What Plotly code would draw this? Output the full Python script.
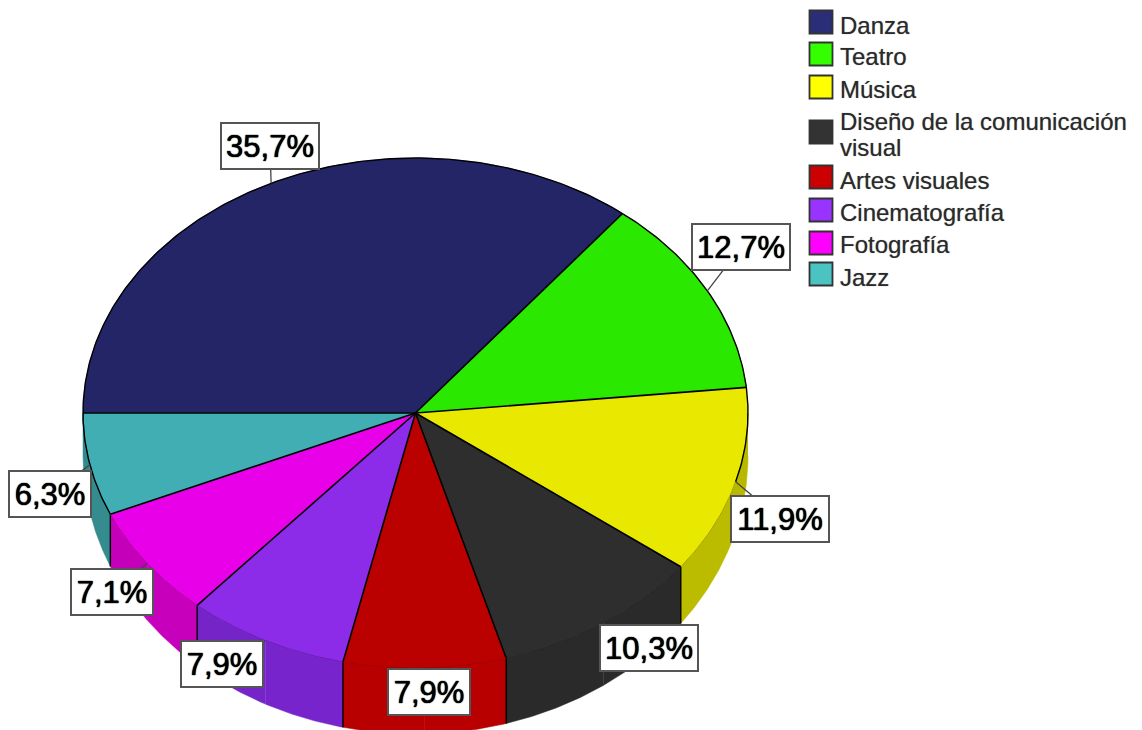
import numpy as np
import plotly.graph_objects as go

CATEGORIES = ["Danza", "Teatro", "Música", "Diseño de la comunicación<br>visual",
              "Artes visuales", "Cinematografía", "Fotografía", "Jazz"]
VALUES = [35.7, 12.7, 11.9, 10.3, 7.9, 7.9, 7.1, 6.3]

TOP_COLORS = ["#232566", "#2ae800", "#e8e800", "#2e2e2e", "#bb0000", "#8c2ce8", "#e800e8", "#40aeb2"]
WALL_COLORS = ["#1d1f55", "#22c000", "#b8b800", "#2a2a2a", "#b80000", "#7524c8", "#c400b8", "#338a8c"]
LEGEND_COLORS = ["#2a2e78", "#33ff00", "#ffff00", "#333333", "#cc0000", "#9933ff", "#ff00ff", "#4bc3c3"]

# layout, in page pixels
CX, CY, RX, RY = 415.5, 413, 332.5, 255
BOTTOM_CY, BOTTOM_RY = 456, 278
LABEL_CENTERS = [(270, 146), (741, 247), (780, 519), (649, 648), (429, 692), (222, 664), (112, 592), (50, 494)]
LEGEND_Y = [22, 54, 87, 132, 177, 210, 243, 274]
LEGEND_TEXT_Y = [25, 56, 89, 121, 180, 212, 244, 277]


def top_xy(deg):
    t = np.radians(deg)
    return CX + RX * np.cos(t), CY - RY * np.sin(t)


def bottom_xy(deg):
    t = np.radians(deg)
    return CX + RX * np.cos(t), BOTTOM_CY - BOTTOM_RY * np.sin(t)


def shade(color, factor):
    rgb = [min(255, int(int(color[i:i + 2], 16) * factor)) for i in (1, 3, 5)]
    return "rgb({},{},{})".format(*rgb)


def add_line(x, y, width, color):
    fig.add_trace(go.Scatter(x=x, y=y, mode="lines", line=dict(width=width, color=color),
                             hoverinfo="skip", showlegend=False))


# slices run clockwise from the left edge; the printed percentages add up to 99.8,
# so the last slice closes the ellipse
edges = 180 - np.cumsum([0] + VALUES) * 3.6
edges[-1] = -180
starts, ends = edges[:-1], edges[1:]
mids = (starts + ends) / 2

fig = go.Figure()

# side wall, only the front half shows; each section has two faint bands
for a, b, color in zip(starts, ends, WALL_COLORS):
    a, b = min(a, 0), max(b, -180)
    if a <= b:
        continue
    m = (a + b) / 2
    for p, q in ((a, m), (m, b)):
        inner = abs((p + q) / 2 + 90) < abs((a + b) / 2 + 90)
        band = shade(color, 1.02) if inner else color
        arc = np.linspace(p, q, 40)
        tx, ty = top_xy(arc)
        bx, by = bottom_xy(arc[::-1])
        fig.add_trace(go.Scatter(
            x=np.r_[tx, bx], y=np.r_[ty, by], mode="lines", fill="toself", fillcolor=band,
            line=dict(width=0.5, color=band), hoverinfo="skip", showlegend=False,
        ))

# vertical edges between wall sections
for deg in edges[1:-1]:
    if deg < 0:
        x0, y0 = top_xy(deg)
        x1, y1 = bottom_xy(deg)
        add_line([x0, x1], [y0, y1], 1.4, "#000000")

# top faces
for name, v, a, b, color in zip(CATEGORIES, VALUES, starts, ends, TOP_COLORS):
    ax, ay = top_xy(np.linspace(a, b, 120))
    label = name.replace("<br>", " ")
    fig.add_trace(go.Scatter(
        x=np.r_[CX, ax, CX], y=np.r_[CY, ay, CY], mode="lines", fill="toself", fillcolor=color,
        line=dict(width=0.5, color=color), name=label,
        hovertemplate=label + ": " + f"{v:.1f}%".replace(".", ",") + "<extra></extra>",
        hoveron="fills", showlegend=False,
    ))

# faint seam between top face and wall
for a, b, color in zip(starts, ends, WALL_COLORS):
    a, b = min(a, 0), max(b, -180)
    if a > b:
        sx, sy = top_xy(np.linspace(a, b, 40))
        add_line(sx, sy, 1, shade(color, 0.88))

# black outline: rim from the Jazz slice round the back to mid Música, and radial edges
rim_x, rim_y = top_xy(np.linspace(ends[-2] + 360, mids[2], 300))
add_line(rim_x, rim_y, 1.4, "#000000")
for deg in edges[:-1]:
    ex, ey = top_xy(deg)
    add_line([CX, ex], [CY, ey], 1.6, "#000000")

# leader lines, the label boxes cover their far end
for deg, (lx, ly) in zip(mids, LABEL_CENTERS):
    sx, sy = top_xy(deg)
    add_line([sx, lx], [sy, ly], 1.3, "#444444")

# value labels
for v, (lx, ly) in zip(VALUES, LABEL_CENTERS):
    fig.add_annotation(
        x=lx, y=ly, text=f"{v:.1f}%".replace(".", ","), showarrow=False,
        font=dict(family="Liberation Sans", size=31, color="#000000",
                  shadow="0 0 1px #000000, 0 0 1px #000000"),
        bgcolor="#ffffff", bordercolor="#555555", borderwidth=2, borderpad=0,
        width=80 if v < 10 else 96, height=44,
    )

# legend
fig.add_trace(go.Scatter(
    x=[821] * len(CATEGORIES), y=LEGEND_Y, mode="markers",
    marker=dict(symbol="square", size=23, color=LEGEND_COLORS, line=dict(width=1.8, color="#333333")),
    hoverinfo="skip", showlegend=False,
))
for name, y in zip(CATEGORIES, LEGEND_TEXT_Y):
    for i, line in enumerate(name.split("<br>")):
        fig.add_annotation(x=838, y=y + i * 26, text=line, showarrow=False, xanchor="left",
                           font=dict(family="Liberation Sans", size=24, color="#2a2a2a",
                                     shadow="0 0 1px #888888"))

fig.update_xaxes(range=[0, 1142], visible=False)
fig.update_yaxes(range=[730, 0], visible=False)
fig.update_layout(
    width=1142, height=730, autosize=False,
    margin=dict(l=0, r=0, t=0, b=0),
    plot_bgcolor="#ffffff", paper_bgcolor="#ffffff",
    showlegend=False,
)

fig.write_html("out.html", config={"displayModeBar": False},
               post_script="document.body.style.margin='0';document.body.style.overflow='hidden';")
